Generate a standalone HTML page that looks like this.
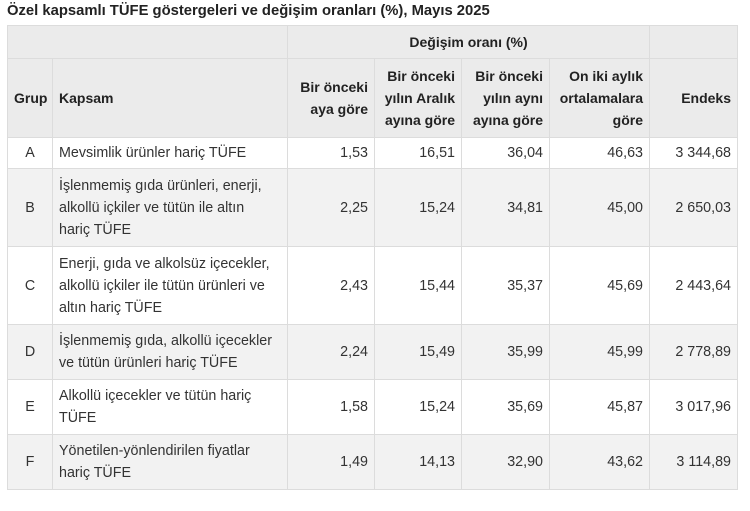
<!DOCTYPE html>
<html><head><meta charset="utf-8"><style>
body{margin:0;width:750px;height:511px;background:#fff;font-family:"Liberation Sans",sans-serif;color:#333;font-size:14.3px;overflow:hidden}
.t{position:absolute;left:7px;top:3px;font-weight:bold;font-size:14.8px;color:#222;white-space:nowrap}
table{position:absolute;left:7px;top:25px;border-collapse:collapse;table-layout:fixed;width:730px}
td,th{border:1px solid #dcdcdc;padding:0 6px;line-height:22px;white-space:nowrap;vertical-align:middle}
thead th{background:#ebebeb;font-weight:bold;color:#222;font-size:14px}
tbody tr:nth-child(even) td{background:#f2f2f2}
.r{text-align:right}.c{text-align:center}.l{text-align:left}
</style></head><body>
<div class="t">Özel kapsamlı TÜFE göstergeleri ve değişim oranları (%), Mayıs 2025</div>
<table>
<colgroup><col style="width:45px"><col style="width:235px"><col style="width:87px"><col style="width:87px"><col style="width:88px"><col style="width:100px"><col style="width:88px"></colgroup>
<thead>
<tr style="height:33px"><th colspan="2"></th><th colspan="4" class="c">Değişim oranı (%)</th><th></th></tr>
<tr style="height:79px"><th class="c">Grup</th><th class="l">Kapsam</th><th class="r">Bir önceki<br>aya göre</th><th class="r">Bir önceki<br>yılın Aralık<br>ayına göre</th><th class="r">Bir önceki<br>yılın aynı<br>ayına göre</th><th class="r">On iki aylık<br>ortalamalara<br>göre</th><th class="r">Endeks</th></tr>
</thead>
<tbody>
<tr style="height:31px"><td class="c">A</td><td>Mevsimlik ürünler hariç TÜFE</td><td class="r">1,53</td><td class="r">16,51</td><td class="r">36,04</td><td class="r">46,63</td><td class="r">3 344,68</td></tr>
<tr style="height:78px"><td class="c">B</td><td>İşlenmemiş gıda ürünleri, enerji,<br>alkollü içkiler ve tütün ile altın<br>hariç TÜFE</td><td class="r">2,25</td><td class="r">15,24</td><td class="r">34,81</td><td class="r">45,00</td><td class="r">2 650,03</td></tr>
<tr style="height:78px"><td class="c">C</td><td>Enerji, gıda ve alkolsüz içecekler,<br>alkollü içkiler ile tütün ürünleri ve<br>altın hariç TÜFE</td><td class="r">2,43</td><td class="r">15,44</td><td class="r">35,37</td><td class="r">45,69</td><td class="r">2 443,64</td></tr>
<tr style="height:55px"><td class="c">D</td><td>İşlenmemiş gıda, alkollü içecekler<br>ve tütün ürünleri hariç TÜFE</td><td class="r">2,24</td><td class="r">15,49</td><td class="r">35,99</td><td class="r">45,99</td><td class="r">2 778,89</td></tr>
<tr style="height:55px"><td class="c">E</td><td>Alkollü içecekler ve tütün hariç<br>TÜFE</td><td class="r">1,58</td><td class="r">15,24</td><td class="r">35,69</td><td class="r">45,87</td><td class="r">3 017,96</td></tr>
<tr style="height:55px"><td class="c">F</td><td>Yönetilen-yönlendirilen fiyatlar<br>hariç TÜFE</td><td class="r">1,49</td><td class="r">14,13</td><td class="r">32,90</td><td class="r">43,62</td><td class="r">3 114,89</td></tr>
</tbody>
</table>
</body></html>
